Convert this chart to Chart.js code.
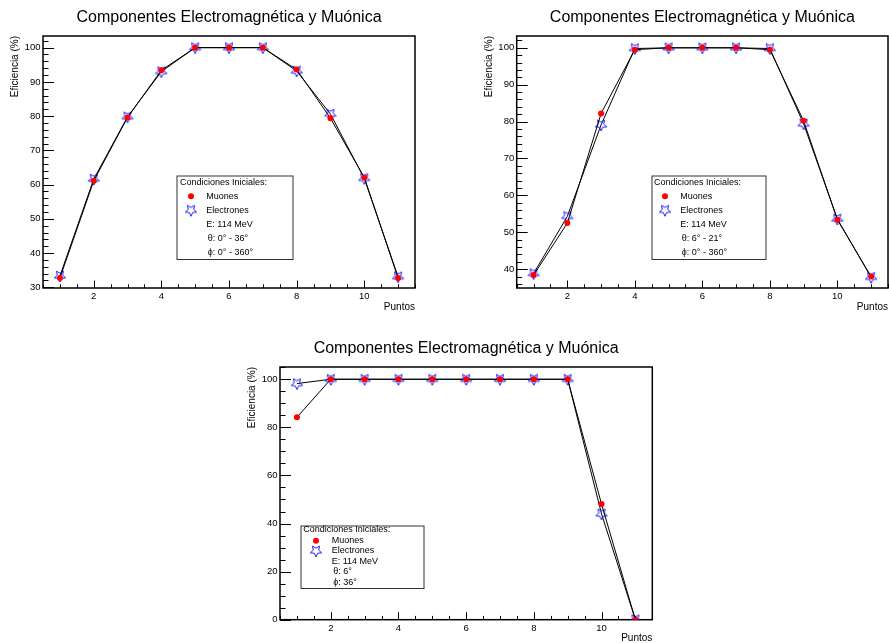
<!DOCTYPE html>
<html>
<head>
<meta charset="utf-8">
<script src="https://cdn.jsdelivr.net/npm/chart.js@4.4.0/dist/chart.umd.min.js"></script>
<style>
  body { margin: 0; background: #fff; width: 889px; height: 643px; position: relative; overflow: hidden; }
  canvas { position: absolute; }
</style>
</head>
<body>
<canvas id="grafico1" width="445" height="320" style="left:0;top:0;width:445px;height:320px"></canvas>
<canvas id="grafico2" width="444" height="320" style="left:445px;top:0;width:444px;height:320px"></canvas>
<canvas id="grafico3" width="450" height="323" style="left:220px;top:320px;width:450px;height:323px"></canvas>
<script>
// datos
const puntos = [1, 2, 3, 4, 5, 6, 7, 8, 9, 10, 11];

const muones1 = [32.7, 61.1, 79.6, 93.4, 100, 100, 100, 93.6, 79.4, 62.1, 32.7];
const electrones1 = [33.3, 61.6, 79.8, 93.0, 100, 100, 100, 93.2, 80.6, 61.8, 33.1];

const muones2 = [38.4, 52.5, 82.2, 99.5, 100, 100, 100, 99.5, 80.2, 53.4, 38.0];
const electrones2 = [38.8, 54.3, 79.1, 99.8, 100, 100, 100, 99.8, 79.4, 53.6, 37.8];

const muones3 = [84.2, 100, 100, 100, 100, 100, 100, 100, 100, 48.1, 0];
const electrones3 = [98.2, 100, 100, 100, 100, 100, 100, 100, 100, 44.0, 0];

const xTicks = [2, 4, 6, 8, 10];
const yTicks1 = [30, 40, 50, 60, 70, 80, 90, 100];
const yTicks2 = [40, 50, 60, 70, 80, 90, 100];
const yTicks3 = [0, 20, 40, 60, 80, 100];

const titulo = 'Componentes Electromagnética y Muónica';
const tituloY = 'Eficiencia (%)';
const tituloX = 'Puntos';
const cabecera = 'Condiciones Iniciales:';
const nombres = ['Muones', 'Electrones'];
const condiciones1 = ['E: 114 MeV', 'θ: 0° - 36°', 'ϕ: 0° - 360°'];
const condiciones2 = ['E: 114 MeV', 'θ: 6° - 21°', 'ϕ: 0° - 360°'];
const condiciones3 = ['E: 114 MeV', 'θ: 6°', 'ϕ: 36°'];

const FUENTE = '"Liberation Sans", Arial, Helvetica, sans-serif';

// estrella abierta (marcador de ROOT)
function estrella(r, color) {
  const c = document.createElement('canvas');
  const s = Math.ceil(r * 2 + 4);
  c.width = c.height = s;
  const g = c.getContext('2d');
  g.strokeStyle = color;
  g.lineWidth = 1;
  g.beginPath();
  for (let i = 0; i < 10; i++) {
    const ang = Math.PI / 2 + i * Math.PI / 5;
    const rr = i % 2 ? r * 0.47 : r;
    const px = s / 2 + rr * Math.cos(ang);
    const py = s / 2 + rr * Math.sin(ang);
    if (i) g.lineTo(px, py); else g.moveTo(px, py);
  }
  g.closePath();
  g.stroke();
  return c;
}
const marcaEstrella = estrella(6, '#1a1aff');

const estiloRoot = {
  id: 'estiloRoot',
  beforeDatasetsDraw(chart, args, opts) {
    const ctx = chart.ctx, a = chart.chartArea;
    const xs = chart.scales.x, ys = chart.scales.y;
    ctx.save();
    ctx.strokeStyle = '#000';
    ctx.lineWidth = 1;
    ctx.beginPath();
    for (let v = Math.ceil(xs.min * 2) / 2; v <= xs.max; v += 0.5) {
      const px = Math.round(xs.getPixelForValue(v)) + 0.5;
      const len = v % 2 === 0 ? 7.5 : 3.8;
      ctx.moveTo(px, a.bottom);
      ctx.lineTo(px, a.bottom - len);
    }
    for (let v = Math.ceil(ys.min / opts.yMenor) * opts.yMenor; v <= ys.max; v += opts.yMenor) {
      const py = Math.round(ys.getPixelForValue(v)) + 0.5;
      const len = v % opts.yMayor === 0 ? 11 : 5.5;
      ctx.moveTo(a.left, py);
      ctx.lineTo(a.left + len, py);
    }
    ctx.stroke();
    ctx.lineWidth = 1.5;
    ctx.strokeRect(a.left, a.top, a.right - a.left, a.bottom - a.top);
    ctx.restore();
  },
  afterDraw(chart, args, opts) {
    const ctx = chart.ctx, a = chart.chartArea;
    ctx.save();
    ctx.fillStyle = '#000';
    // titulo
    ctx.font = '16px ' + FUENTE;
    ctx.textAlign = 'center';
    ctx.textBaseline = 'alphabetic';
    ctx.fillText(titulo, (a.left + a.right) / 2, a.top - opts.tituloSep);
    // titulos de ejes
    ctx.font = '10px ' + FUENTE;
    ctx.textAlign = 'right';
    ctx.textBaseline = 'middle';
    ctx.fillText(tituloX, a.right, a.bottom + 19);
    ctx.save();
    ctx.translate(a.left - 27.5, a.top);
    ctx.rotate(-Math.PI / 2);
    ctx.fillText(tituloY, 0, 0);
    ctx.restore();
    // leyenda
    const L = opts.leyenda;
    ctx.fillStyle = '#fff';
    ctx.fillRect(L.caja[0], L.caja[1], L.caja[2] - L.caja[0], L.caja[3] - L.caja[1]);
    ctx.strokeStyle = '#333';
    ctx.lineWidth = 1;
    ctx.strokeRect(L.caja[0] + 0.5, L.caja[1] + 0.5, L.caja[2] - L.caja[0], L.caja[3] - L.caja[1]);
    ctx.fillStyle = '#000';
    ctx.font = '9px ' + FUENTE;
    ctx.textAlign = 'left';
    ctx.textBaseline = 'middle';
    ctx.fillText(cabecera, L.cab[0], L.cab[1]);
    const textos = nombres.concat(opts.condiciones);
    textos.forEach((t, i) => {
      const dx = i >= 3 ? 1.5 : 0;
      ctx.fillText(t, L.lx + dx, L.ys[i]);
    });
    ctx.fillStyle = '#ff0000';
    ctx.beginPath();
    ctx.arc(L.mx, L.ys[0], 3, 0, Math.PI * 2);
    ctx.fill();
    ctx.drawImage(marcaEstrella, L.mx - marcaEstrella.width / 2, L.ys[1] - marcaEstrella.height / 2);
    ctx.restore();
  }
};

function crearGrafico(id, muones, electrones, yMin, yMax, yTicks, yMayor, yMenor, area, leyenda, condiciones, tituloSep) {
  const canvas = document.getElementById(id);
  const W = canvas.width, H = canvas.height;
  return new Chart(canvas, {
    type: 'line',
    data: {
      datasets: [{
        label: nombres[0],
        data: puntos.map((x, i) => ({ x: x, y: muones[i] })),
        borderColor: '#000',
        borderWidth: 1,
        pointStyle: 'circle',
        pointRadius: 3,
        pointBackgroundColor: '#ff0000',
        pointBorderWidth: 0,
        tension: 0,
        fill: false
      }, {
        label: nombres[1],
        data: puntos.map((x, i) => ({ x: x, y: electrones[i] })),
        borderColor: '#000',
        borderWidth: 1,
        pointStyle: marcaEstrella,
        tension: 0,
        fill: false
      }]
    },
    options: {
      responsive: false,
      animation: false,
      events: [],
      layout: { autoPadding: false, padding: { top: area.top, right: W - area.right, left: 0, bottom: 0 } },
      scales: {
        x: {
          type: 'linear',
          min: 0.5,
          max: 11.5,
          afterBuildTicks: s => { s.ticks = xTicks.map(v => ({ value: v })); },
          afterFit: s => { s.height = H - area.bottom; },
          grid: { display: false, drawTicks: false },
          border: { display: false },
          ticks: { autoSkip: false, maxRotation: 0, padding: 3, color: '#000', font: { family: FUENTE, size: 9.5 } }
        },
        y: {
          min: yMin,
          max: yMax,
          afterBuildTicks: s => { s.ticks = yTicks.map(v => ({ value: v })); },
          afterFit: s => { s.width = area.left; },
          grid: { display: false, drawTicks: false },
          border: { display: false },
          ticks: { autoSkip: false, padding: 2.5, color: '#000', font: { family: FUENTE, size: 9.5 } }
        }
      },
      plugins: {
        legend: { display: false },
        title: { display: false },
        tooltip: { enabled: false },
        estiloRoot: { yMayor: yMayor, yMenor: yMenor, leyenda: leyenda, condiciones: condiciones, tituloSep: tituloSep }
      }
    },
    plugins: [estiloRoot]
  });
}

crearGrafico('grafico1', muones1, electrones1, 29.8, 103.4, yTicks1, 10, 2,
  { left: 43, top: 36, right: 415, bottom: 288 },
  { caja: [176.5, 175.5, 292.5, 259], cab: [180, 183], mx: 191, lx: 206.3, ys: [196.3, 210.3, 224.3, 238.3, 252.3] },
  condiciones1, 14.5);

crearGrafico('grafico2', muones2, electrones2, 34.9, 103.2, yTicks2, 10, 2,
  { left: 71.7, top: 36, right: 443, bottom: 288 },
  { caja: [206.5, 175.5, 320.5, 259], cab: [209, 183], mx: 220, lx: 235.3, ys: [196.3, 210.3, 224.3, 238.3, 252.3] },
  condiciones2, 14.5);

crearGrafico('grafico3', muones3, electrones3, 0, 105.1, yTicks3, 20, 5,
  { left: 60, top: 47, right: 432.3, bottom: 299.7 },
  { caja: [80.5, 205.5, 203.5, 268], cab: [83.3, 210], mx: 96, lx: 111.7, ys: [220.7, 230.9, 241.3, 251.7, 262.3] },
  condiciones3, 14.5);
</script>
</body>
</html>
